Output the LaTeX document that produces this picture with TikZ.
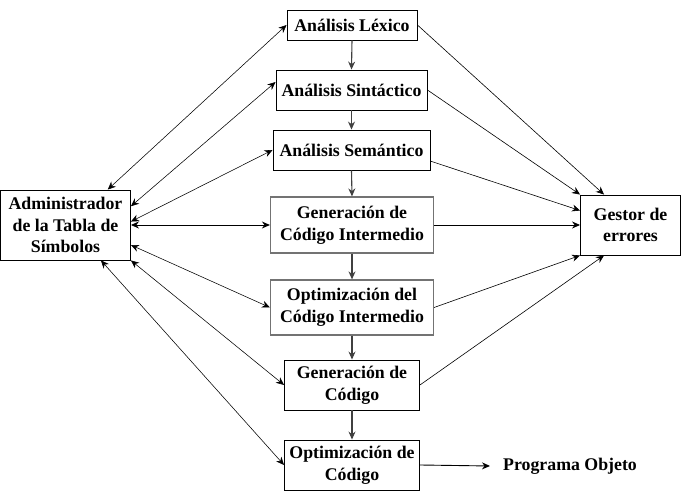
\documentclass[tikz,border=0pt]{standalone}
\usepackage{fontspec}
\setmainfont{Liberation Serif}
\usetikzlibrary{arrows.meta}
\begin{document}
\begin{tikzpicture}[x=1pt,y=-1pt,
  font=\bfseries\fontsize{17.8}{21.7}\selectfont,
  fase/.style={draw,line width=0.9pt,align=center,inner sep=0pt},
  flecha/.style={-{Stealth[length=8pt,width=7pt]},line width=0.6pt},
  doble/.style={{Stealth[length=8pt,width=7pt]}-{Stealth[length=8pt,width=7pt]},line width=0.55pt}]
  \useasboundingbox (0,0) rectangle (681,502);
  % fases del compilador
  \node[fase,minimum width=130pt,minimum height=30pt] (lex)  at (352,25)  {Análisis Léxico};
  \node[fase,minimum width=151pt,minimum height=40pt] (sint) at (351.5,90) {Análisis Sintáctico};
  \node[fase,minimum width=157pt,minimum height=40pt] (sem)  at (351.5,150) {Análisis Semántico};
  \node[fase,draw=black!55,line width=1.2pt,minimum width=163pt,minimum height=56pt] (gci) at (352,225) {Generación de\\Código Intermedio};
  \node[fase,draw=black!55,line width=1.2pt,minimum width=163pt,minimum height=55pt] (oci) at (352,307.5) {Optimización del\\Código Intermedio};
  \node[fase,minimum width=135pt,minimum height=50pt] (gc)   at (352,385) {Generación de\\Código};
  \node[fase,minimum width=135pt,minimum height=50pt] (oc)   at (352,465) {Optimización de\\Código};
  \node[fase,minimum width=130pt,minimum height=70pt] (tabla) at (65.5,225) {Administrador\\de la Tabla de\\Símbolos};
  \node[fase,minimum width=100pt,minimum height=60pt] (err)  at (630.5,225) {Gestor de\\errores};
  \node[inner sep=0pt,inner xsep=13pt,anchor=west] (obj) at (490,466) {Programa Objeto};
  % secuencia
  \foreach \a/\b in {lex/sint,sint/sem,sem/gci,gci/oci,oci/gc,gc/oc}
    \draw[flecha,line width=1.1pt,black!75] (\a.south) -- (\b.north);
  \draw[flecha,line width=0.9pt] (oc.east) -- (obj.west);
  % tabla de simbolos
  \draw[doble] (tabla.40) -- (lex.west);
  \draw[doble] (tabla.16) -- (sint.174);
  \draw[doble] (tabla.3) -- (sem.west);
  \draw[doble,line width=0.9pt] (tabla.east) -- (gci.west);
  \draw[doble] (tabla.-17) -- (oci.west);
  \draw[doble] (tabla.south east) -- (gc.west);
  \draw[doble] (tabla.-45) -- (oc.west);
  % errores
  \draw[flecha] (lex.east) -- (err.131);
  \draw[flecha] (sint.east) -- (err.north west);
  \draw[flecha] (sem.-8) -- (err.164);
  \draw[flecha,line width=0.9pt] (gci.east) -- (err.west);
  \draw[flecha] (oci.east) -- (err.south west);
  \draw[flecha] (gc.east) -- (err.-131);
\end{tikzpicture}
\end{document}
